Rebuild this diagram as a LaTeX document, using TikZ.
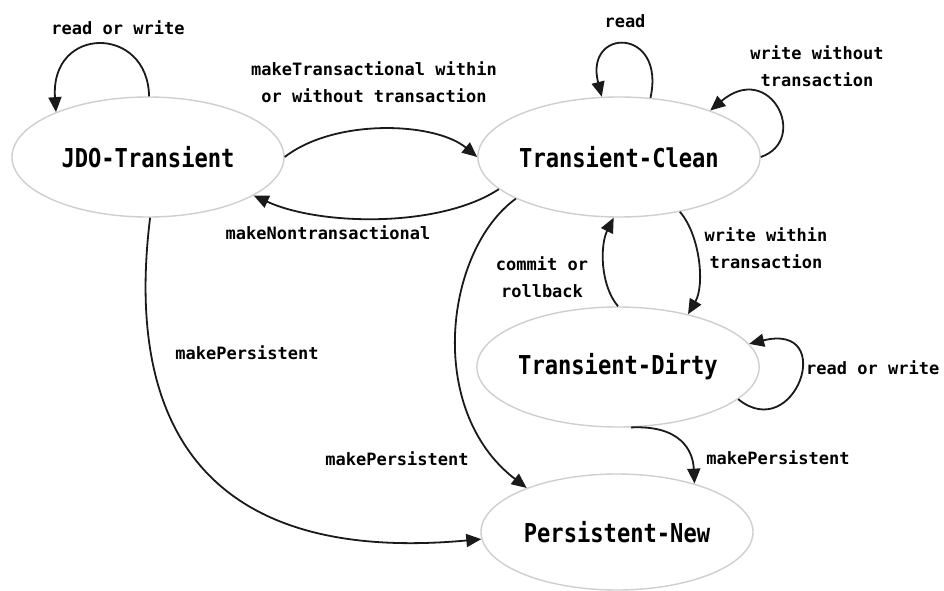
\documentclass[tikz,border=0pt]{standalone}
\usepackage{fontspec}
\usetikzlibrary{shapes.geometric,arrows.meta}
\newfontfamily\statefont[FakeStretch=0.85]{DejaVu Sans Mono}
\newfontfamily\labelfont{DejaVu Sans Mono}
\definecolor{edgeink}{HTML}{1A1A1A}
\definecolor{ringgray}{HTML}{CFCFCF}
\begin{document}
\begin{tikzpicture}[x=1pt,y=-1pt,
  state/.style={ellipse, draw=ringgray, line width=1.4pt, minimum width=272pt,
    minimum height=120pt, inner sep=0pt,
    font=\statefont\bfseries\fontsize{26}{30}\selectfont},
  trans/.style={draw=edgeink, line width=1.8pt,
    -{Triangle[length=15pt,width=13pt]}},
  lbl/.style={font=\labelfont\bfseries\fontsize{17}{27}\selectfont,
    align=center, inner sep=0pt, text=black}]
\useasboundingbox (0,0) rectangle (944,591);
\fill[white] (0,0) rectangle (944,591);

% states
\node[state] (jdo) at (148,157) {JDO-Transient};
\node[state] (tc) at (619,157) {Transient-Clean};
\node[state] (td) at (618,367) {Transient-Dirty};
\node[state, minimum height=116pt] (pn) at (617,532) {Persistent-New};

% transitions
\draw[trans] (jdo.89) .. controls (148,25) and (50,25) .. (jdo.154);
\draw[trans] (jdo.0) .. controls (335,118) and (435,122) .. (tc.180);
\draw[trans] (tc.195) .. controls (440,228) and (320,226) .. (jdo.340);
\draw[trans] (tc.62) .. controls (666,27) and (584,27) .. (tc.106);
\draw[trans] (tc.0) .. controls (810,140) and (770,60) .. (tc.27);
\draw[trans] (tc.318) .. controls (700,235) and (705,285) .. (td.37);
\draw[trans] (td.90) .. controls (600,285) and (600,245) .. (tc.265);
\draw[trans] (td.345) .. controls (795,445) and (838,322) .. (td.10);
\draw[trans] (td.282) .. controls (680,425) and (693,450) .. (pn.32);
\draw[trans] (tc.202) .. controls (445,250) and (425,410) .. (pn.154);
\draw[trans] (jdo.272) .. controls (125,420) and (200,565) .. (pn.183);

% transition labels
\node[lbl] (lrw1) at (118,28) {read or write};
\node[lbl] (lmt) at (374,82) {makeTransactional within\\or without transaction};
\node[lbl] (lmn) at (328,233) {makeNontransactional};
\node[lbl] (lrd) at (625,21) {read};
\node[lbl] (lwo) at (817,66) {write without\\transaction};
\node[lbl] (lwi) at (766,248) {write within\\transaction};
\node[lbl] (lcr) at (542,277) {commit or\\rollback};
\node[lbl, anchor=west] (lrw2) at (806,368) {read or write};
\node[lbl] (lmp1) at (778,458) {makePersistent};
\node[lbl] (lmp2) at (397,459) {makePersistent};
\node[lbl] (lmp3) at (247,353) {makePersistent};
\end{tikzpicture}
\end{document}
